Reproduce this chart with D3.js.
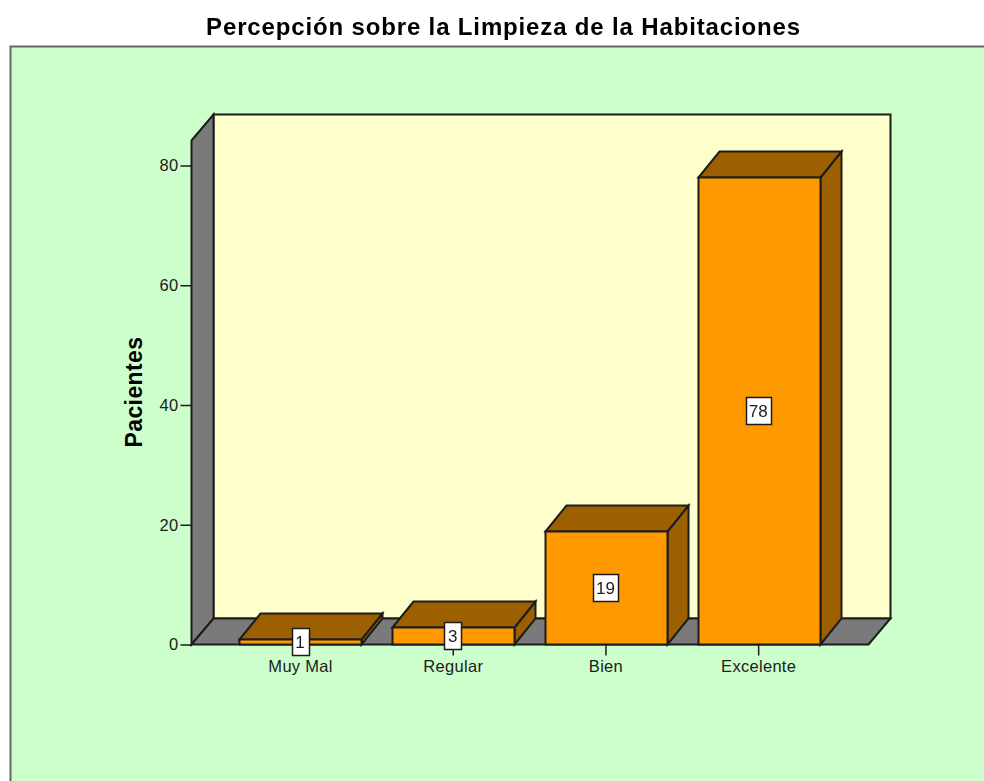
<!DOCTYPE html>
<html>
<head>
<meta charset="utf-8">
<script src="https://cdn.jsdelivr.net/npm/d3@7/dist/d3.min.js"></script>
<style>
html,body{margin:0;padding:0;background:#fff;overflow:hidden}
svg{display:block;filter:blur(0.4px)}
text{font-family:"Liberation Sans",Arial,sans-serif}
</style>
</head>
<body>
<svg id="chart" width="984" height="781"></svg>
<script>
const titleText = "Percepción sobre la Limpieza de la Habitaciones";
const yTitle = "Pacientes";
const categories = ["Muy Mal", "Regular", "Bien", "Excelente"];
const values = [1, 3, 19, 78];
const yTicks = [0, 20, 40, 60, 80];

const W = 984, H = 781;
const frame = {left: 10.5, top: 46.5};
const plot = {left: 191.5, right: 869.5, bottom: 644.5, top: 140.5};
const depth = {x: 22, y: -26};
const barDepth = {x: 21, y: -26};
const ink = "#1c1c1c";
const colors = {bg: "#CCFFCC", wall: "#FFFFCC", side: "#7A7A7A", bar: "#FF9900", barDark: "#9C6000"};

const svg = d3.select("#chart");
const y = d3.scaleLinear().domain([0, 80]).range([plot.bottom, 165.5]);
const x = d3.scaleBand().domain(categories).range([224.2, 835]).paddingInner(0.2).paddingOuter(0.1);

const poly = (pts, fill) => svg.append("polygon")
  .attr("points", pts.map(p => p.join(",")).join(" "))
  .attr("fill", fill).attr("stroke", ink).attr("stroke-width", 2).attr("stroke-linejoin", "miter");

// frame
svg.append("rect").attr("x", frame.left).attr("y", frame.top)
  .attr("width", W + 10 - frame.left).attr("height", H + 10 - frame.top)
  .attr("fill", colors.bg).attr("stroke", "#666").attr("stroke-width", 2);

// 3D plot box
const d = depth;
poly([[plot.left + d.x, plot.top + d.y], [plot.right + d.x - 1, plot.top + d.y],
      [plot.right + d.x - 1, plot.bottom + d.y], [plot.left + d.x, plot.bottom + d.y]], colors.wall);
poly([[plot.left, plot.top], [plot.left + d.x, plot.top + d.y],
      [plot.left + d.x, plot.bottom + d.y], [plot.left, plot.bottom]], colors.side);
poly([[plot.left, plot.bottom], [plot.left + d.x, plot.bottom + d.y],
      [plot.right + d.x - 1, plot.bottom + d.y], [plot.right - 1, plot.bottom]], colors.side);

// bars
const b = barDepth;
categories.forEach((c, i) => {
  const x0 = Math.round(x(c)) + 0.5, x1 = x0 + Math.round(x.bandwidth());
  const yt = Math.round(y(values[i])) + 0.5, yb = y(0);
  poly([[x1, yb], [x1 + b.x, yb + b.y], [x1 + b.x, yt + b.y], [x1, yt]], colors.barDark);
  poly([[x0, yt], [x0 + b.x, yt + b.y], [x1 + b.x, yt + b.y], [x1, yt]], colors.barDark);
  poly([[x0, yt], [x1, yt], [x1, yb], [x0, yb]], colors.bar);
});

// axes
const yAxis = d3.axisLeft(y).tickValues(yTicks).tickSize(11).tickPadding(2).tickFormat(d3.format("d"));
const gy = svg.append("g").attr("transform", `translate(${plot.left},0)`).call(yAxis);
gy.select(".domain").remove();
gy.selectAll("text").attr("font-size", 16.5).attr("letter-spacing", 0.3).attr("font-family", "Liberation Sans").attr("fill", ink);
gy.selectAll("line").attr("stroke", ink).attr("stroke-width", 1.5);

const xAxis = d3.axisBottom(x).tickSize(11).tickPadding(5);
const gx = svg.append("g").attr("transform", `translate(0,${plot.bottom})`).call(xAxis);
gx.select(".domain").remove();
gx.selectAll("text").attr("font-size", 16.5).attr("letter-spacing", 0.3).attr("font-family", "Liberation Sans").attr("fill", ink);
gx.selectAll("line").attr("stroke", ink).attr("stroke-width", 1.5);

// value labels
categories.forEach((c, i) => {
  const cx = x(c) + x.bandwidth() / 2 - 0.5;
  const cy = (y(values[i]) + y(0)) / 2;
  const label = String(values[i]);
  const bw = label.length > 1 ? 25 : 17;
  svg.append("rect").attr("x", Math.round(cx - bw / 2) + 0.5).attr("y", Math.round(cy - 13.5) + 0.5)
    .attr("width", bw).attr("height", 27).attr("fill", "#fff").attr("stroke", ink).attr("stroke-width", 1.5);
  svg.append("text").attr("x", cx).attr("y", cy + 6.5).attr("text-anchor", "middle")
    .attr("font-size", 17).attr("fill", ink).text(label);
});

// titles
svg.append("text").attr("x", 503.5).attr("y", 34.5).attr("text-anchor", "middle")
  .attr("font-size", 24).attr("letter-spacing", 0.85).attr("font-weight", "bold").attr("fill", "#000").text(titleText);
svg.append("text").attr("transform", "translate(142,392) rotate(-90)").attr("text-anchor", "middle")
  .attr("font-size", 23).attr("letter-spacing", 0.4).attr("font-weight", "bold").attr("fill", "#000").text(yTitle);
</script>
</body>
</html>
